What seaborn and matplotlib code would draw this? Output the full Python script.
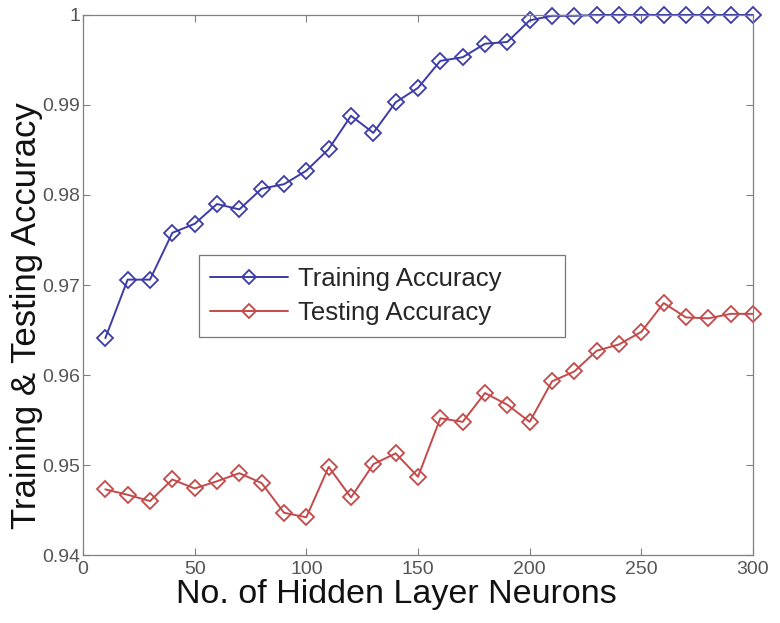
import matplotlib
matplotlib.use("Agg")
import matplotlib.pyplot as plt
import seaborn as sns
import pandas as pd

neurons = list(range(10, 301, 10))
train_acc = [0.9641, 0.9706, 0.9706, 0.9758, 0.9768, 0.9790, 0.9784, 0.9807, 0.9812, 0.9827,
             0.9851, 0.9888, 0.9869, 0.9903, 0.9919, 0.9949, 0.9953, 0.9968, 0.9970, 0.9994,
             0.9999, 0.9999, 1.0, 1.0, 1.0, 1.0, 1.0, 1.0, 1.0, 1.0]
test_acc = [0.9473, 0.9467, 0.9460, 0.9484, 0.9474, 0.9482, 0.9491, 0.9480, 0.9447, 0.9442,
            0.9498, 0.9464, 0.9501, 0.9513, 0.9487, 0.9552, 0.9548, 0.9580, 0.9567, 0.9548,
            0.9593, 0.9604, 0.9627, 0.9634, 0.9648, 0.9680, 0.9664, 0.9663, 0.9668, 0.9668]
series_names = ["Training Accuracy", "Testing Accuracy"]
x_ticks = [0, 50, 100, 150, 200, 250, 300]
y_ticks = [0.94, 0.95, 0.96, 0.97, 0.98, 0.99, 1.0]
y_ticklabels = ["0.94", "0.95", "0.96", "0.97", "0.98", "0.99", "1"]

df = pd.DataFrame({
    "neurons": neurons * 2,
    "acc": train_acc + test_acc,
    "series": [series_names[0]] * len(neurons) + [series_names[1]] * len(neurons),
})

sns.set_theme(style="white")
plt.rcParams["font.family"] = ["Liberation Sans", "DejaVu Sans"]

fig = plt.figure(figsize=(7.8, 6.23), dpi=100)
ax = fig.add_axes([0.1064, 0.109, 0.859, 0.867])

palette = {series_names[0]: "#3c3ca8", series_names[1]: "#c44a4a"}
sns.lineplot(data=df, x="neurons", y="acc", hue="series", palette=palette, ax=ax,
             marker="D", markersize=8.5, markerfacecolor="none", markeredgewidth=1.3,
             linewidth=1.4, legend=True)
for line, name in zip(ax.get_lines(), series_names):
    line.set_markeredgecolor(palette[name])
    line.set_markerfacecolor("none")
    line.set_clip_on(False)

ax.set_xlim(0, 300)
ax.set_ylim(0.94, 1.0)
ax.set_xticks(x_ticks)
ax.set_yticks(y_ticks)
ax.set_yticklabels(y_ticklabels)
ax.tick_params(direction="in", length=5, color="#808080", labelcolor="#555555",
               labelsize=14, top=True, right=True, bottom=True, left=True, width=0.8)
ax.tick_params(axis="y", pad=2)
ax.tick_params(axis="x", pad=4)
for s in ax.spines.values():
    s.set_color("#808080")
    s.set_linewidth(0.9)
    s.set_visible(True)

ax.set_xlabel("No. of Hidden Layer Neurons", fontsize=24.5, color="#111111")
ax.set_ylabel("Training & Testing Accuracy", fontsize=25, color="#111111")
ax.xaxis.set_label_coords(0.467, -0.044)
ax.yaxis.set_label_coords(-0.06, 0.444)

handles, labels = ax.get_legend_handles_labels()
for h, name in zip(handles, labels):
    h.set_markeredgecolor(palette[name])
    h.set_markerfacecolor("none")
    h.set_markersize(7)
leg = ax.legend(handles, labels, loc="upper left",
                bbox_to_anchor=(0.173, 0.4, 0.546, 0.1556), mode="expand",
                borderaxespad=0, fontsize=18.5, frameon=True, fancybox=False,
                edgecolor="#555555", handlelength=3.0, borderpad=0.45,
                labelspacing=0.42, handletextpad=0.4)
leg.get_frame().set_linewidth(0.9)

fig.savefig("out.png", dpi=100)
